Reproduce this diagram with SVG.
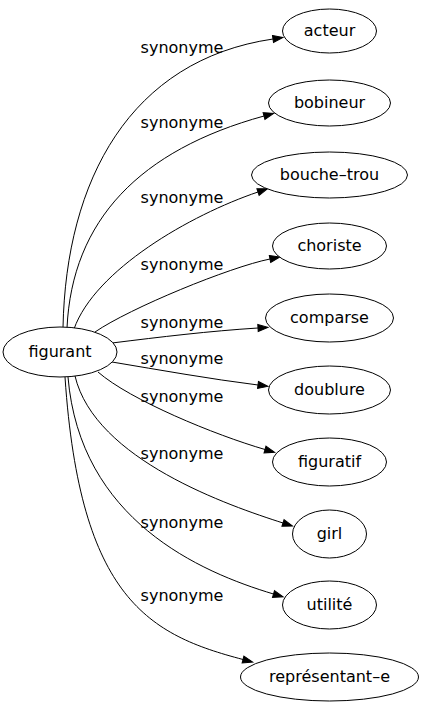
<svg xmlns="http://www.w3.org/2000/svg" width="423" height="707" viewBox="0 0 423 707">
<defs>
<style>
.n ellipse{fill:#fff;stroke:#000;stroke-width:1}
text{font-family:"DejaVu Sans",Verdana,sans-serif;font-size:16px;fill:#000;text-anchor:middle}
.e path{fill:none;stroke:#000;stroke-width:1;marker-end:url(#ah)}
</style>
<marker id="ah" markerUnits="userSpaceOnUse" markerWidth="10" markerHeight="7" refX="0" refY="3.5" orient="auto" overflow="visible">
<path d="M0,0 L10,3.5 L0,7 z" fill="#000" stroke="#000" stroke-width="1"/>
</marker>
</defs>
<rect width="423" height="707" fill="#fff"/>
<g id="edges" class="e">
<path d="M63,327.5 C66,180 130,60 273,39"/>
<path d="M67,328 C72,220 140,150 264,116"/>
<path d="M74,329 C95,270 190,215 258,192"/>
<path d="M95,332 C130,308 230,267 270,259"/>
<path d="M112,343 C160,337 210,331 258,328"/>
<path d="M112,362 C160,370 210,379 258,385"/>
<path d="M98,372 C130,400 215,435 265,449.5"/>
<path d="M75,376 C95,460 230,506 283,523"/>
<path d="M68,377 C80,520 200,572 273.5,594"/>
<path d="M65,377 C80,600 150,635 243,659.5"/>
<text x="182" y="53">synonyme</text>
<text x="182" y="128">synonyme</text>
<text x="182" y="203">synonyme</text>
<text x="182" y="270">synonyme</text>
<text x="182" y="328">synonyme</text>
<text x="182" y="364">synonyme</text>
<text x="182" y="402">synonyme</text>
<text x="182" y="459">synonyme</text>
<text x="182" y="528">synonyme</text>
<text x="182" y="601">synonyme</text>
</g>
<g id="figurant" class="n"><ellipse cx="60" cy="352" rx="57" ry="25"/><text x="60" y="357">figurant</text></g>
<g id="acteur" class="n"><ellipse cx="329.5" cy="31" rx="47" ry="22"/><text x="329.5" y="36">acteur</text></g>
<g id="bobineur" class="n"><ellipse cx="329.5" cy="103" rx="61" ry="23"/><text x="329.5" y="108">bobineur</text></g>
<g id="bouche-trou" class="n"><ellipse cx="329.5" cy="175" rx="78" ry="23"/><text x="329.5" y="180">bouche–trou</text></g>
<g id="choriste" class="n"><ellipse cx="329.5" cy="246" rx="57" ry="23"/><text x="329.5" y="251">choriste</text></g>
<g id="comparse" class="n"><ellipse cx="329.5" cy="318" rx="64" ry="24"/><text x="329.5" y="323">comparse</text></g>
<g id="doublure" class="n"><ellipse cx="329.5" cy="390" rx="61" ry="24"/><text x="329.5" y="395">doublure</text></g>
<g id="figuratif" class="n"><ellipse cx="329.5" cy="462" rx="57" ry="24"/><text x="329.5" y="467">figuratif</text></g>
<g id="girl" class="n"><ellipse cx="329.5" cy="534" rx="37" ry="24"/><text x="329.5" y="539">girl</text></g>
<g id="utilite" class="n"><ellipse cx="329.5" cy="605" rx="47" ry="24"/><text x="329.5" y="610">utilité</text></g>
<g id="representant-e" class="n"><ellipse cx="329.5" cy="677" rx="89" ry="24"/><text x="329.5" y="682">représentant–e</text></g>
</svg>
